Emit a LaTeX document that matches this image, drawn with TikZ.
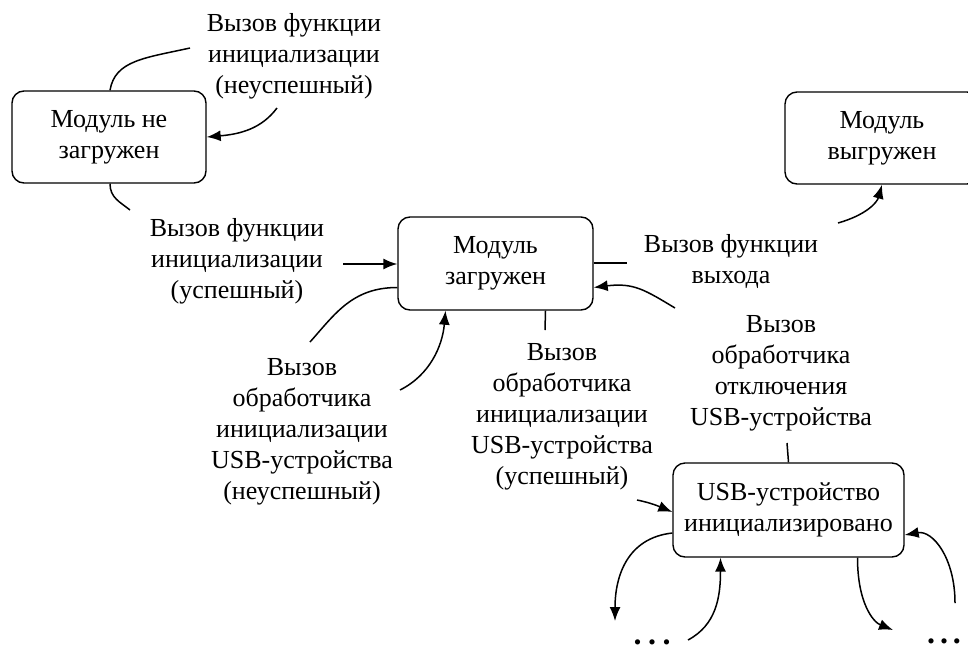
\documentclass[tikz,border=0pt]{standalone}
\usepackage{fontspec}
\setmainfont{Liberation Serif}
\usetikzlibrary{arrows.meta}
\begin{document}
\begin{tikzpicture}[x=1pt,y=-1pt,
  every node/.style={font=\fontsize{26}{31}\selectfont, align=center, inner sep=0pt},
  state/.style={draw, line width=1.4pt, rounded corners=12pt, minimum width=194pt, minimum height=92pt},
  lbl/.style={},
  conn/.style={line width=1.5pt},
  arr/.style={line width=1.5pt, -{Latex[length=14pt,width=11pt]}},
  dots/.style={font=\fontsize{32}{32}\bfseries\selectfont, anchor=base}
]
\useasboundingbox[fill=white] (0,0) rectangle (968,651);

% states
\node[state] (b1) at (109,137) {Модуль не\\загружен};
\node[state, minimum width=195pt, minimum height=93pt] (b2) at (495.5,263.5) {Модуль\\загружен};
\node[state, minimum width=231pt, minimum height=94pt] (b3) at (788.5,510) {USB-устройство\\инициализировано};
\node[state] (b4) at (882,138) {Модуль\\выгружен};

% labels
\node[lbl] (l1) at (294,56) {Вызов функции\\инициализации\\(неуспешный)};
\node[lbl] (l2) at (237,261) {Вызов функции\\инициализации\\(успешный)};
\node[lbl] (l3) at (302,432) {Вызов\\обработчика\\инициализации\\USB-устройства\\(неуспешный)};
\node[lbl] (l4) at (562,417) {Вызов\\обработчика\\инициализации\\USB-устройства\\(успешный)};
\node[lbl] (l5) at (731,261) {Вызов функции\\выхода};
\node[lbl] (l6) at (781,373) {Вызов\\обработчика\\отключения\\USB-устройства};

\node[dots] (d1) at (652,644) {.\hspace{6.5pt}.\hspace{6.5pt}.};
\node[dots] (d2) at (944,643) {.\hspace{5pt}.\hspace{5pt}.};

% free ends
\coordinate (c1) at (190,48);
\coordinate (c2) at (277,108);
\coordinate (c3) at (130,210);
\coordinate (c4) at (343,264);
\coordinate (c5) at (310,342);
\coordinate (c6) at (400,390);
\coordinate (c7) at (545,330);
\coordinate (c8) at (627,263);
\coordinate (c9) at (838,223);
\coordinate (c10) at (675,308);
\coordinate (c11) at (787,443);
\coordinate (c12) at (637,500);
\coordinate (c13) at (615,621);
\coordinate (c14) at (688,640);
\coordinate (c15) at (893,630);
\coordinate (c16) at (955,603);

% connectors
\draw[conn] ([xshift=1pt]b1.north) .. controls +(5,-30) and +(-45,10) .. (c1);
\draw[arr] (c2) .. controls +(-15,20) and +(35,-3) .. (b1.east);
\draw[conn] ([xshift=1pt]b1.south) .. controls +(0,14) and +(-10,-8) .. (c3);
\draw[arr] (c4) -- (b2.west |- c4);
\draw[conn] ([yshift=-24pt]b2.west) .. controls +(-45,0) and +(25,-28) .. (c5);
\draw[arr] (c6) .. controls +(30,-15) and +(-3,35) .. ([xshift=-50pt]b2.south);
\draw[conn] ([xshift=50pt]b2.south) -- (c7);
\draw[conn] (b2.east |- c8) -- (c8);
\draw[arr] (c9) .. controls +(28,-8) and +(-5,18) .. (b4.south);
\draw[arr] (c10) .. controls +(-30,-18) and +(40,-5) .. ([yshift=-24pt]b2.east);
\draw[conn] (c11) -- (b3.north);
\draw[arr] (c12) .. controls +(15,3) and +(-12,-5) .. ([yshift=-2pt]b3.west);
\draw[arr] ([yshift=-23pt]b3.west) .. controls +(-45,5) and +(0,-45) .. (c13);
\draw[arr] (c14) .. controls +(28,-15) and +(0,40) .. ([xshift=-68pt]b3.south);
\draw[arr] ([xshift=69pt]b3.south) .. controls +(0,45) and +(-20,-8) .. (c15);
\draw[arr] (c16) .. controls +(0,-45) and +(28,-5) .. ([yshift=-25pt]b3.east);
\end{tikzpicture}
\end{document}
